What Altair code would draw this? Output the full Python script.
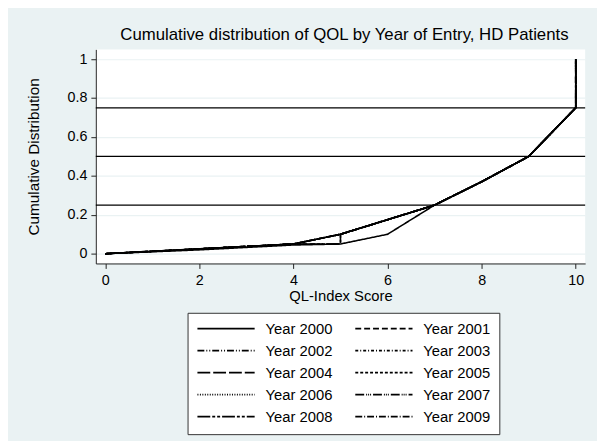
import altair as alt
import pandas as pd

# ---- data ----
years = ["Year 2000", "Year 2001", "Year 2002", "Year 2003", "Year 2004",
         "Year 2005", "Year 2006", "Year 2007", "Year 2008", "Year 2009"]

# main path (shared by most years)
xs_main = [0, 2, 4, 5, 6, 7, 8, 9, 10, 10]
ys_main = [0, 0.025, 0.05, 0.1, 0.175, 0.25, 0.37, 0.5, 0.75, 1.0]

# lower path
xs_low = [0, 2, 4, 5, 6, 7, 8, 9, 10, 10]
ys_low = [0, 0.02, 0.045, 0.05, 0.1, 0.25, 0.37, 0.5, 0.75, 1.0]

# path with a jump at 5
xs_jump = [0, 2, 4, 5, 5, 6, 7, 8, 9, 10, 10]
ys_jump = [0, 0.025, 0.05, 0.05, 0.1, 0.175, 0.25, 0.37, 0.5, 0.75, 1.0]

path_of_year = {
    "Year 2000": "low", "Year 2001": "main", "Year 2002": "main",
    "Year 2003": "main", "Year 2004": "jump", "Year 2005": "main",
    "Year 2006": "main", "Year 2007": "main", "Year 2008": "jump",
    "Year 2009": "main",
}
paths = {"main": (xs_main, ys_main), "low": (xs_low, ys_low),
         "jump": (xs_jump, ys_jump)}

hlines = [0.25, 0.5, 0.75]
x_ticks = [0, 2, 4, 6, 8, 10]
y_ticks = [0, 0.2, 0.4, 0.6, 0.8, 1]

dashes = [[1, 0], [6, 3], [7, 2, 1, 2, 1, 2], [3, 2, 1, 2], [13, 3],
          [3, 2], [1, 1.5], [9, 2, 1, 1, 1, 1, 1, 2], [13, 2, 3, 2, 3, 2],
          [7, 2, 1, 2]]

rows = []
for yr in years:
    xs, ys = paths[path_of_year[yr]]
    for i, (xv, yv) in enumerate(zip(xs, ys)):
        rows.append({"year": yr, "x": xv, "y": yv, "i": i})
df = pd.DataFrame(rows)
hdf = pd.DataFrame({"h": hlines})

FONT = "Liberation Sans"
BG = "#EAF2F3"

xscale = alt.Scale(domain=[-0.2, 10.2], nice=False, zero=False)
yscale = alt.Scale(domain=[-0.05, 1.05], nice=False, zero=False)

lines = alt.Chart(df).mark_line(strokeWidth=1.6, color="black").encode(
    x=alt.X("x:Q", scale=xscale,
            axis=alt.Axis(values=x_ticks, title="QL-Index Score", grid=False,
                          format="~r", titleFontSize=15)),
    y=alt.Y("y:Q", scale=yscale,
            axis=alt.Axis(values=y_ticks, title="Cumulative Distribution",
                          grid=True, format="~r")),
    strokeDash=alt.StrokeDash(
        "year:N",
        scale=alt.Scale(domain=years, range=dashes),
        legend=alt.Legend(
            title=None, orient="none", legendX=93, legendY=267, columns=2,
            direction="horizontal",
            symbolType="stroke", symbolSize=3364, symbolStrokeWidth=1.6,
            symbolStrokeColor="black", clipHeight=14,
            labelFont=FONT, labelFontSize=15, labelColor="black",
            labelOffset=10, columnPadding=22, rowPadding=7.3, padding=9,
            strokeColor="#333333", fillColor="white",
        ),
    ),
    order="i:Q",
)

rules = alt.Chart(hdf).mark_rule(color="black", strokeWidth=1.3).encode(
    y=alt.Y("h:Q", scale=yscale)
)

chart = alt.layer(rules, lines).properties(
    width=496, height=217,
    background=BG,
    title=alt.TitleParams(
        "Cumulative distribution of QOL by Year of Entry, HD Patients",
        font=FONT, fontSize=17, fontWeight="normal", color="black",
        anchor="middle", offset=6, dx=4),
    autosize=alt.AutoSizeParams(type="none"),
    padding={"left": 89, "top": 39, "right": 12, "bottom": 177},
).configure_view(
    fill="white", stroke=None
).configure_axis(
    labelFont=FONT, labelFontSize=14.5, labelColor="black",
    titleFont=FONT, titleFontSize=15.5, titleFontWeight="normal",
    titleColor="black", domainColor="#222222", tickColor="#222222",
    tickSize=5, gridColor=BG, gridWidth=1.2,
).configure_axisX(
    labelPadding=5, titlePadding=2
).configure_axisY(
    labelPadding=4, titlePadding=26
)

chart.save("out.html", embed_options={"renderer": "svg", "actions": False})
